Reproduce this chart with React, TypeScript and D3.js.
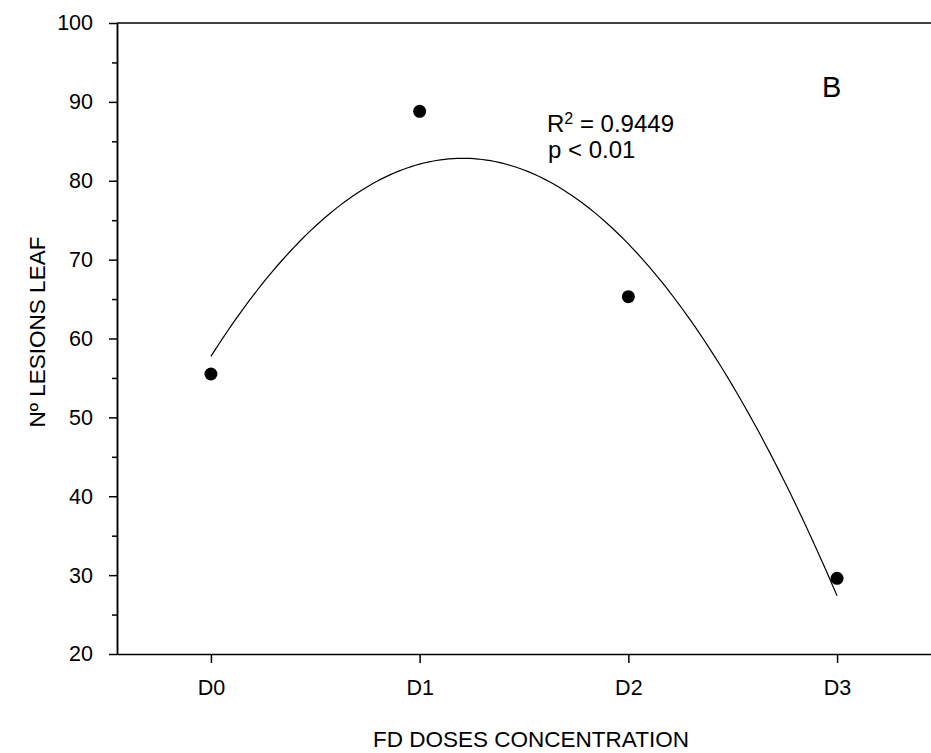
import React, { useEffect, useRef } from 'react';
import * as d3 from 'd3';

const categories = ['D0', 'D1', 'D2', 'D3'];
const lesions = [55.5, 88.8, 65.3, 29.6];
const yTicks = [20, 30, 40, 50, 60, 70, 80, 90, 100];
const yMinorTicks = [25, 35, 45, 55, 65, 75, 85, 95];

// least squares quadratic fit of the points (the regression line in the figure)
function quadFit(xs: number[], ys: number[]) {
    const s = (f: (x: number, y: number) => number) => d3.sum(xs, (x, i) => f(x, ys[i]));
    const n = xs.length;
    const sx = s(x => x), sx2 = s(x => x * x), sx3 = s(x => x ** 3), sx4 = s(x => x ** 4);
    const sy = s((x, y) => y), sxy = s((x, y) => x * y), sx2y = s((x, y) => x * x * y);
    const m = [
        [n, sx, sx2, sy],
        [sx, sx2, sx3, sxy],
        [sx2, sx3, sx4, sx2y],
    ];
    for (let i = 0; i < 3; i++) {
        for (let j = i + 1; j < 3; j++) {
            const f = m[j][i] / m[i][i];
            for (let k = i; k < 4; k++) m[j][k] -= f * m[i][k];
        }
    }
    const c = [0, 0, 0];
    for (let i = 2; i >= 0; i--) {
        let v = m[i][3];
        for (let k = i + 1; k < 3; k++) v -= m[i][k] * c[k];
        c[i] = v / m[i][i];
    }
    return (x: number) => c[0] + c[1] * x + c[2] * x * x;
}

const App = () => {
    const svgRef = useRef<SVGSVGElement>(null);

    useEffect(() => {
        const width = 931;
        const height = 753;
        const left = 117, right = 931, top = 23, bottom = 654;
        const font = 'Arial, "Liberation Sans", sans-serif';

        const svg = d3.select(svgRef.current)
            .attr('width', width)
            .attr('height', height);
        svg.selectAll('*').remove();

        const x = d3.scaleLinear().domain([-0.45, 3.45]).range([left, right]);
        const y = d3.scaleLinear().domain([20, 100]).range([bottom, top]);

        // y axis
        const yAxis = svg.append('g')
            .attr('transform', `translate(${left},0)`)
            .call(d3.axisLeft(y).tickValues(yTicks).tickSize(8).tickSizeOuter(0).tickPadding(16));
        yAxis.append('g')
            .call(d3.axisLeft(y).tickValues(yMinorTicks).tickSize(5).tickSizeOuter(0).tickFormat(() => ''));

        // x axis
        svg.append('g')
            .attr('transform', `translate(0,${bottom})`)
            .call(d3.axisBottom(x).tickValues([0, 1, 2, 3]).tickSize(9).tickSizeOuter(0).tickPadding(17)
                .tickFormat(d => categories[d as number]));

        svg.selectAll('.tick text')
            .style('font-family', font)
            .style('font-size', '21.5px')
            .attr('fill', '#000');
        svg.selectAll('.domain, .tick line')
            .attr('stroke', '#000')
            .attr('stroke-width', 1.5);

        // top frame line
        svg.append('line')
            .attr('x1', left).attr('x2', right)
            .attr('y1', top).attr('y2', top)
            .attr('stroke', '#000').attr('stroke-width', 1.5);

        // fitted curve
        const fit = quadFit(d3.range(lesions.length), lesions);
        const curve = d3.range(0, 3.0001, 0.02);
        svg.append('path')
            .datum(curve)
            .attr('fill', 'none')
            .attr('stroke', '#000')
            .attr('stroke-width', 1.2)
            .attr('d', d3.line<number>().x(d => x(d)).y(d => y(fit(d))));

        svg.selectAll('.dot')
            .data(lesions)
            .join('circle')
            .attr('class', 'dot')
            .attr('cx', (d, i) => x(i))
            .attr('cy', d => y(d))
            .attr('r', 6.5)
            .attr('fill', '#000');

        // annotations
        svg.append('text')
            .attr('x', 822).attr('y', 97)
            .style('font-family', font).style('font-size', '29px')
            .text('B');

        const r2 = svg.append('text')
            .attr('x', 547).attr('y', 132)
            .style('font-family', font).style('font-size', '24px');
        r2.append('tspan').text('R');
        r2.append('tspan').attr('dy', -8).style('font-size', '16px').text('2');
        r2.append('tspan').attr('dy', 8).text(' = 0.9449');

        svg.append('text')
            .attr('x', 548).attr('y', 158)
            .style('font-family', font).style('font-size', '24px')
            .text('p < 0.01');

        // axis titles
        svg.append('text')
            .attr('x', 531).attr('y', 747)
            .attr('text-anchor', 'middle')
            .style('font-family', font).style('font-size', '22.5px')
            .text('FD DOSES CONCENTRATION');

        svg.append('text')
            .attr('transform', 'rotate(-90)')
            .attr('x', -332).attr('y', 45)
            .attr('text-anchor', 'middle')
            .style('font-family', font).style('font-size', '22.5px')
            .text('Nº LESIONS LEAF');
    }, []);

    return <svg ref={svgRef} style={{ position: 'absolute', left: 0, top: 0, background: '#fff' }}></svg>;
};

export default App;
